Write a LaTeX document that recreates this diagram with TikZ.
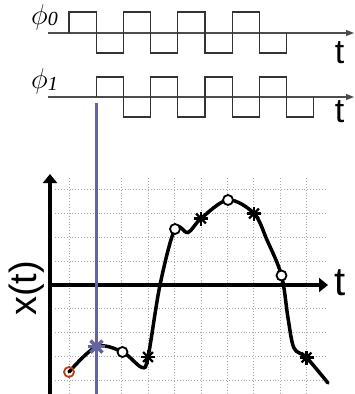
\documentclass[tikz,border=0pt]{standalone}
\usepackage{fontspec}
\setmainfont{Liberation Sans}
\newfontfamily\serifit{Liberation Serif}
\usetikzlibrary{arrows.meta}
\definecolor{clockblue}{RGB}{100,100,160}
\definecolor{startred}{RGB}{190,60,20}
\newcommand\starmark[4]{% #1 point, #2 colour, #3 arm, #4 width
  \foreach \a in {0,45,90,135}
    \draw[#2, line width=#4, shift={(#1)}] (\a:#3) -- (\a+180:#3);}

\begin{document}
\begin{tikzpicture}[x=1pt,y=-1pt,
  wave/.style={black!80, line width=1.3pt},
  clockax/.style={black!70, line width=1.3pt, -{Triangle[length=8pt,width=6pt]}},
  bigax/.style={black, line width=#1, -{Triangle[length=9pt,width=14pt]}},
  ring/.style={circle, draw, line width=1.8pt, fill=white, inner sep=0pt, minimum size=10pt},
  gridline/.style={gray!70, dotted, line width=0.9pt}]
\useasboundingbox (0,0) rectangle (355,394);

% clock phases
\coordinate (c0s) at (48,33);  \coordinate (c0e) at (354,33);
\coordinate (c1s) at (48,97);  \coordinate (c1e) at (354,97);
\draw[clockax] (c0s) -- (c0e);
\draw[clockax] (c1s) -- (c1e);
\draw[wave] (69,33) -- ++(0,-21) -- ++(27.2,0)
  -- ++(0,41) -- ++(27.2,0) -- ++(0,-41) -- ++(27.2,0)
  -- ++(0,41) -- ++(27.2,0) -- ++(0,-41) -- ++(27.2,0)
  -- ++(0,41) -- ++(27.2,0) -- ++(0,-41) -- ++(27.2,0)
  -- ++(0,41) -- ++(27.2,0) -- ++(0,-20);
\draw[wave] (96.2,97) -- ++(0,-20) -- ++(27.2,0)
  -- ++(0,40) -- ++(27.2,0) -- ++(0,-40) -- ++(27.2,0)
  -- ++(0,40) -- ++(27.2,0) -- ++(0,-40) -- ++(27.2,0)
  -- ++(0,40) -- ++(27.2,0) -- ++(0,-40) -- ++(27.2,0)
  -- ++(0,40) -- ++(27.2,0) -- ++(0,-20);
\node[anchor=base west, inner sep=0pt] (phi0) at (31,24)
  {\fontsize{24}{24}\selectfont\scalebox{1.15}{$\phi$}\raisebox{-1pt}{\serifit\itshape\fontsize{20}{20}\selectfont 0}};
\node[anchor=base west, inner sep=0pt] (phi1) at (31,88.5)
  {\fontsize{24}{24}\selectfont\scalebox{1.15}{$\phi$}\raisebox{-1.5pt}{\serifit\itshape\fontsize{20}{20}\selectfont 1}};
\node[inner sep=0pt, font=\fontsize{34}{34}\selectfont] (t0) at (339.5,53) {t};
\node[inner sep=0pt, font=\fontsize{34}{34}\selectfont] (t1) at (339.5,112) {t};

% grid
\foreach \k in {0,...,9}
  \draw[gridline] ({69+26.4*\k},178) -- ({69+26.4*\k},394);
\foreach \k in {0,1,2,3,5,6,7,8}
  \draw[gridline] (55,{189.8+23.8*\k}) -- (325,{189.8+23.8*\k});

% axes
\coordinate (o) at (50,285);
\coordinate (ybot) at (50,394); \coordinate (ytop) at (50,174);
\coordinate (xend) at (328,285);
\draw[bigax=4pt] (ybot) -- (ytop);
\draw[bigax=3.5pt] (o) -- (xend);
\node[inner sep=0pt, font=\fontsize{40}{40}\selectfont] (tlab) at (340,282.5) {t};
\node[inner sep=0pt, rotate=90, font=\fontsize{38}{38}\selectfont] (xlab) at (26.5,288.5) {x(t)};

% sampling instant
\coordinate (bt) at (96.5,103); \coordinate (bb) at (96.5,394);
\draw[clockblue, line width=3pt] (bt) -- (bb);

% signal
\coordinate (x0) at (69,372);
\coordinate (x1) at (96.5,346.7);
\coordinate (x2) at (122.5,352);
\coordinate (x3) at (148,357);
\coordinate (x4) at (175,229);
\coordinate (x5) at (201,218.5);
\coordinate (x6) at (228,200);
\coordinate (x7) at (254,213.5);
\coordinate (x8) at (281.5,275.5);
\coordinate (x9) at (306.5,357.5);
\draw[line width=3.5pt, line cap=round] plot[smooth, tension=0.55] coordinates {
  (x0) (x1) (x2) (141.7,367.3) (x3) (160,285) (x4) (188,232.5) (x5) (x6)
  (x7) (267,240) (x8) (288,318) (294,348) (x9) (328,383)};

\node[ring, draw=startred, fill=none] (r0) at (x0) {};
\node[ring] (r2) at (x2) {};
\node[ring] (r4) at (x4) {};
\node[ring] (r6) at (x6) {};
\node[ring] (r8) at (x8) {};
\starmark{x1}{clockblue}{8.5}{3.5pt}
\starmark{x3}{black}{7}{2.2pt}
\starmark{x5}{black}{7}{2.2pt}
\starmark{x7}{black}{7}{2.2pt}
\starmark{x9}{black}{7}{2.2pt}
\end{tikzpicture}
\end{document}
